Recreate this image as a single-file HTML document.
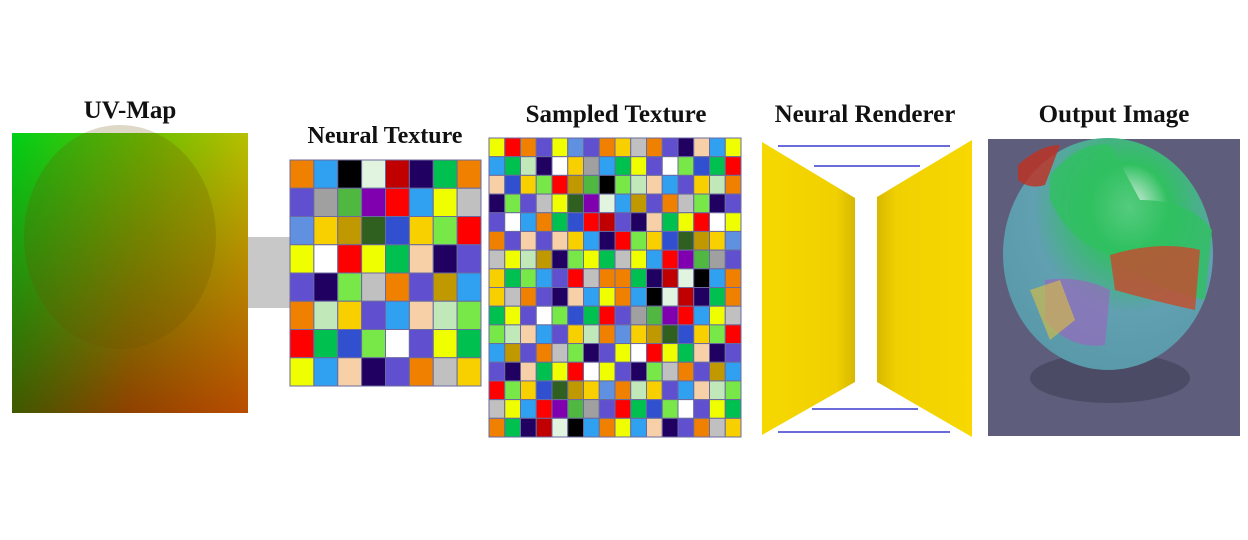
<!DOCTYPE html>
<html><head><meta charset="utf-8"><style>
body{margin:0;background:#fff;width:1248px;height:540px;overflow:hidden;font-family:"Liberation Serif",serif}
.t{position:absolute;font-weight:bold;font-size:25px;color:#111;white-space:nowrap;transform:translateX(-50%)}
</style></head><body>
<svg width="1248" height="540" style="position:absolute;left:0;top:0">
<defs>
<linearGradient id="uvtop" x1="0" x2="1"><stop offset="0" stop-color="#00d018"/><stop offset="0.6" stop-color="#70c000"/><stop offset="1" stop-color="#b8c000"/></linearGradient>
<linearGradient id="uvbot" x1="0" x2="1"><stop offset="0" stop-color="#405800"/><stop offset="0.5" stop-color="#904000"/><stop offset="1" stop-color="#b84c00"/></linearGradient>
<linearGradient id="vfade" x1="0" y1="0" x2="0" y2="1"><stop offset="0" stop-color="#fff" stop-opacity="0"/><stop offset="1" stop-color="#fff" stop-opacity="1"/></linearGradient>
<mask id="vm"><rect x="12" y="133" width="236" height="280" fill="url(#vfade)"/></mask>
<radialGradient id="glb" cx="0.6" cy="0.3" r="0.75"><stop offset="0" stop-color="#e8f4f0"/><stop offset="0.25" stop-color="#30c060"/><stop offset="0.6" stop-color="#60a0b0"/><stop offset="1" stop-color="#5898a8"/></radialGradient>
<linearGradient id="yl" x1="0" x2="1"><stop offset="0" stop-color="#f6d800"/><stop offset="0.8" stop-color="#f0d000"/><stop offset="1" stop-color="#d8b800"/></linearGradient>
<linearGradient id="yr" x1="0" x2="1"><stop offset="0" stop-color="#d8b800"/><stop offset="0.2" stop-color="#f0d000"/><stop offset="1" stop-color="#f8d800"/></linearGradient>
</defs>
<g>
<rect x="12" y="133" width="236" height="280" fill="url(#uvtop)"/>
<rect x="12" y="133" width="236" height="280" fill="url(#uvbot)" mask="url(#vm)"/>
<ellipse cx="120" cy="237" rx="96" ry="112" fill="#6a5000" fill-opacity="0.22"/>
</g>
<rect x="248" y="237" width="42" height="71" fill="#c8c8c8"/>
<g id="nt"></g>
<g id="st"></g>
<g>
<polygon points="762,142 855,198 855,382 762,435" fill="url(#yl)"/>
<polygon points="877,197 972,140 972,437 877,382" fill="url(#yr)"/>
<g stroke="#6a6ad8" stroke-width="2">
<line x1="778" y1="146" x2="950" y2="146"/><line x1="814" y1="166" x2="920" y2="166"/>
<line x1="812" y1="409" x2="918" y2="409"/><line x1="778" y1="432" x2="950" y2="432"/>
</g></g>
<g>
<rect x="988" y="139" width="252" height="297" fill="#5e5e7c"/>
<ellipse cx="1110" cy="378" rx="80" ry="25" fill="#404058" opacity="0.6"/>
<ellipse cx="1108" cy="254" rx="105" ry="116" fill="url(#glb)"/>
<path d="M1050 175 Q1080 140 1110 145 L1140 200 Q1190 200 1212 230 L1205 300 Q1160 290 1130 270 L1100 250 Q1070 240 1050 200Z" fill="#30c060" opacity="0.8"/>
<path d="M1110 255 Q1160 240 1200 250 L1195 310 Q1150 300 1115 290Z" fill="#c05030" opacity="0.85"/>
<path d="M1045 280 Q1080 275 1110 290 L1105 345 Q1070 350 1045 320Z" fill="#a060c0" opacity="0.6"/>
<path d="M1030 290 L1060 280 L1075 320 L1050 340Z" fill="#e0c040" opacity="0.6"/>
<path d="M1018 165 Q1040 145 1060 145 L1045 185 Q1030 190 1018 180Z" fill="#c03020" opacity="0.8"/>
</g>
</svg>
<div class="t" style="left:130px;top:97px">UV-Map</div>
<div class="t" style="left:385px;top:123px;font-size:24px">Neural Texture</div>
<div class="t" style="left:616px;top:101px">Sampled Texture</div>
<div class="t" style="left:865px;top:101px">Neural Renderer</div>
<div class="t" style="left:1114px;top:101px">Output Image</div>
<script>
const pal={Y:'#f0ff00',R:'#ff0000',O:'#f08000',P:'#6050d0',L:'#6090e0',B:'#30a0f0',N:'#200060',S:'#f8d0a8',G:'#00c050',W:'#ffffff',g:'#c0e8b8',M:'#a0a0a0',s:'#c0c0c0',F:'#f8d000',K:'#c09800',D:'#306020',V:'#8000b0',k:'#000000',m:'#e0f4e0',r:'#c00000',l:'#78e848',b:'#3050d0',e:'#50b840'};
const neuralRows=['OBkmrNGO','PMeVRBYs','LFKDbFlR','YWRYGSNP','PNlsOPKB','OgFPBSgl','RGblWPYG','YBSNPOsF'];
const sampledRows=['YROPYLPOFsOPNSBY','BGgNWFMBGYPWlbGR','SbFlRKeklgSBPFgO','NlPsYDVmBKPOslNP','PWBOGbRrPNSGYRWY','OPSPSFBNRlFbDKFL','sYgKNlYGsYBRVeMP','FGlBPRsOOGNrmkBO','FsOPNSBYOBkmrNGO','GYPWlbGRPMeVRBYs','lgSBPFgOLFKDbFlR','BKPOslNPYWRYGSNP','PNSGYRWYPNlsOPKB','RlFbDKFLOgFPBSgl','sYBRVeMPRGblWPYG','OGNrmkBOYBSNPOsF'];
function grid(id,rows,x0,y0,w,h){
  const g=document.getElementById(id),n=rows.length,m=rows[0].length,cw=w/m,ch=h/n;
  rows.forEach((row,i)=>{[...row].forEach((c,j)=>{
    const r=document.createElementNS('http://www.w3.org/2000/svg','rect');
    r.setAttribute('x',x0+j*cw);r.setAttribute('y',y0+i*ch);r.setAttribute('width',cw);r.setAttribute('height',ch);
    r.setAttribute('fill',pal[c]||'#888');r.setAttribute('stroke','#6a6aa0');r.setAttribute('stroke-width','1');
    
    
    g.appendChild(r);});});
}
grid('nt',neuralRows,290,160,191,226);
grid('st',sampledRows,489,138,252,299);
</script>
</body></html>
